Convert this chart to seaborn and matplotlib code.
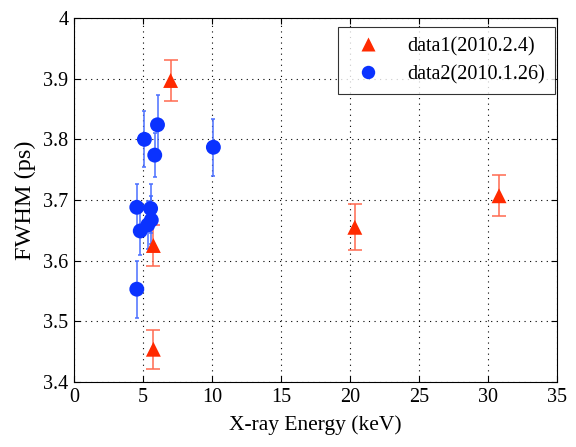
import numpy as np
import pandas as pd
import matplotlib
matplotlib.use("Agg")
import matplotlib.pyplot as plt
import seaborn as sns

# data1 (2010.2.4)
x1 = [7.0, 5.75, 5.75, 20.35, 30.8]
y1 = [3.897, 3.625, 3.454, 3.655, 3.707]
e1 = [0.033, 0.034, 0.032, 0.038, 0.034]

# data2 (2010.1.26)
x2 = [5.1, 6.05, 5.85, 10.1, 4.55, 5.55, 4.8, 5.35, 5.6, 4.55]
y2 = [3.800, 3.824, 3.774, 3.787, 3.688, 3.686, 3.649, 3.659, 3.667, 3.553]
e2 = [0.046, 0.049, 0.036, 0.047, 0.038, 0.040, 0.040, 0.040, 0.040, 0.047]

labels = ["data1(2010.2.4)", "data2(2010.1.26)"]
xticks = [0, 5, 10, 15, 20, 25, 30, 35]
yticks = [3.4, 3.5, 3.6, 3.7, 3.8, 3.9, 4.0]

sns.set_style("ticks")
plt.rcParams["font.family"] = ["Liberation Serif", "DejaVu Serif"]

df = pd.concat([
    pd.DataFrame({"x": x1, "y": y1, "e": e1, "set": labels[0]}),
    pd.DataFrame({"x": x2, "y": y2, "e": e2, "set": labels[1]}),
])

fig = plt.figure(figsize=(5.76, 4.47), dpi=100)
ax = fig.add_axes([0.1285, 0.1454, 0.8385, 0.8143])

marker_col = {labels[0]: "#ff2a00", labels[1]: "#0a32ff"}
err_col = {labels[0]: "#ff6a50", labels[1]: "#4a6fff"}

for lab, sub in df.groupby("set", sort=False):
    ax.errorbar(sub["x"], sub["y"], yerr=sub["e"], fmt="none",
                ecolor=err_col[lab], elinewidth=1.1,
                capsize=5 if lab == labels[0] else 1.5, capthick=1.1, zorder=2)

sns.scatterplot(data=df, x="x", y="y", hue="set", style="set",
                palette=marker_col, markers={labels[0]: "^", labels[1]: "o"},
                s=115, edgecolor="none", ax=ax, zorder=3)

ax.set_xlim(0, 35)
ax.set_ylim(3.4, 4.0)
ax.set_xticks(xticks)
ax.set_xticklabels([str(t) for t in xticks])
ax.set_yticks(yticks)
ax.set_yticklabels(["3.4", "3.5", "3.6", "3.7", "3.8", "3.9", "4"])
ax.grid(True, color="black", linestyle=(0, (1, 4)), linewidth=0.8)
ax.tick_params(direction="in", length=4, labelsize=14.5, top=True, right=True,
               color="black", labelcolor="black", pad=4)
for s in ax.spines.values():
    s.set_visible(True)
    s.set_color("black")
    s.set_linewidth(0.8)

ax.set_xlabel("X-ray Energy (keV)", fontsize=15.5, color="black", labelpad=6)
ax.set_ylabel("FWHM (ps)", fontsize=17.5, color="black", labelpad=5)

leg = ax.legend(loc="upper right", fontsize=14.5, frameon=True, fancybox=False,
                edgecolor="black", borderpad=0.5, handletextpad=0.9,
                borderaxespad=0.0, labelspacing=0.45,
                bbox_to_anchor=(0.995, 0.976), markerscale=0.9)
leg.get_frame().set_linewidth(0.8)
for t in leg.get_texts():
    t.set_color("black")

fig.savefig("out.png", dpi=100)
